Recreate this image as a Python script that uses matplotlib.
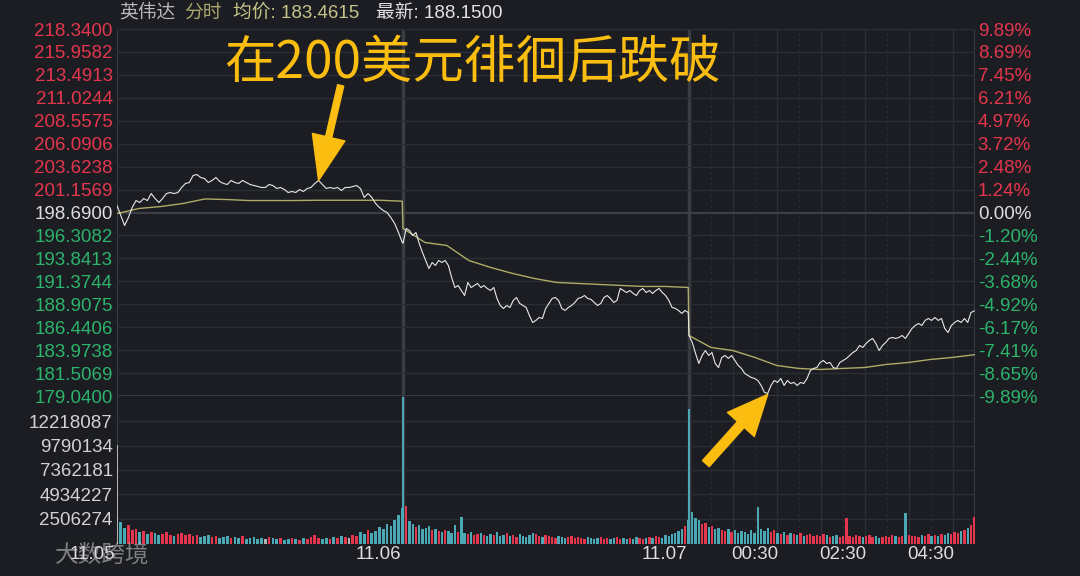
import matplotlib.pyplot as plt
import numpy as np

plt.rcParams['font.family'] = ['Liberation Sans', 'Noto Sans CJK SC', 'DejaVu Sans']

# --- data (NVDA intraday, three sessions, ~3 min steps) ---
d1_price = [199.44, 198.37, 197.30, 198.15, 199.23, 199.97, 199.76, 200.19, 199.97, 200.72,
            200.19, 199.76, 200.19, 200.72, 200.83, 200.72, 200.83, 201.37, 201.80, 201.90,
            202.65, 202.76, 202.44, 202.33, 201.90, 202.12, 202.44, 202.01, 201.80, 201.69,
            202.12, 201.90, 201.80, 202.12, 201.90, 201.69, 201.58, 201.47, 201.37, 201.37,
            201.69, 201.58, 201.26, 201.37, 201.15, 200.83, 200.94, 200.83, 201.15, 200.94,
            201.26, 201.37, 201.80, 202.12, 201.69, 201.26, 201.37, 201.26, 201.37, 201.05,
            201.37, 201.37, 201.47, 201.58, 201.26, 200.30, 200.72, 200.30, 199.65, 199.23,
            198.90, 198.69, 198.15, 197.51, 196.55, 195.48]
d2_price = [195.40, 196.98, 196.76, 196.23, 196.55, 195.37, 194.41, 193.55, 192.69, 193.34,
            193.02, 193.55, 193.34, 193.55, 193.02, 191.73, 190.66, 190.87, 190.34, 189.80,
            191.20, 190.66, 190.87, 191.09, 190.66, 190.87, 190.55, 190.34, 190.66, 189.48,
            188.73, 188.41, 188.73, 188.52, 189.27, 189.59, 188.95, 188.73, 188.52, 187.66,
            186.91, 187.13, 187.45, 187.34, 188.41, 188.95, 189.48, 189.59, 189.27, 188.41,
            188.20, 188.52, 188.73, 189.05, 189.48, 189.59, 189.80, 189.48, 189.38, 189.05,
            188.73, 188.95, 189.59, 189.80, 189.48, 189.05, 189.27, 190.55, 190.34, 190.12,
            190.34, 190.02, 189.80, 190.34, 190.55, 190.12, 190.34, 190.02, 190.34, 190.55,
            190.12, 189.80, 189.27, 188.52, 188.41, 188.20, 187.88, 188.20, 187.98]
d3_price = [185.52, 184.77, 183.59, 182.52, 183.38, 183.91, 183.38, 183.70, 182.52, 182.09,
            183.17, 183.38, 183.06, 183.38, 182.84, 182.31, 181.99, 181.45, 181.24, 181.02,
            180.92, 180.70, 180.17, 179.42, 179.31, 180.17, 180.70, 180.49, 180.92, 180.17,
            180.70, 180.38, 180.49, 180.17, 180.49, 180.38, 180.92, 181.77, 181.99, 182.09,
            182.63, 182.84, 182.52, 182.63, 182.09, 181.99, 182.63, 182.84, 183.06, 183.38,
            183.70, 183.91, 184.45, 184.24, 184.66, 184.99, 185.20, 184.66, 183.91, 184.45,
            184.77, 185.20, 185.31, 185.20, 185.31, 185.52, 185.20, 185.73, 186.27, 186.59,
            186.81, 186.59, 187.13, 187.34, 187.13, 187.45, 187.13, 187.34, 186.27, 185.84,
            186.59, 186.91, 187.13, 186.91, 187.34, 186.91, 187.98, 188.15]

# average price line, every 30 minutes
d1_avg = [198.58, 199.12, 199.33, 199.65, 200.14, 200.08, 199.97, 199.97, 199.97, 200.00,
          200.00, 200.00, 200.00, 199.90]
d2_avg = [196.98, 195.48, 195.16, 193.55, 192.80, 192.16, 191.62, 191.20, 191.09, 190.98,
          190.87, 190.77, 190.77, 190.66]
d3_avg = [185.52, 184.24, 183.91, 183.17, 182.31, 181.99, 181.88, 181.99, 182.09, 182.42,
          182.63, 182.95, 183.17, 183.46]

# volume, millions of shares
d1_vol = [9.80, 2.2, 1.6, 1.9, 1.4, 1.5, 1.2, 1.3, 1.0, 1.2, 1.1, 0.9, 1.0, 1.2, 0.9, 0.8, 1.0, 1.1, 0.9, 1.0,
          0.8, 0.9, 0.7, 0.8, 0.9, 0.7, 0.8, 0.6, 0.7, 0.8, 0.6, 0.7, 0.6, 0.8, 0.5, 0.6, 0.7, 0.5, 0.6, 0.5,
          0.7, 0.6, 0.5, 0.6, 0.4, 0.5, 0.6, 0.5, 0.4, 0.6, 0.5, 0.7, 0.9, 0.6, 0.5, 0.6, 0.5, 0.7, 0.6, 0.8,
          0.7, 0.6, 0.9, 0.8, 1.2, 1.0, 1.4, 1.1, 1.3, 1.7, 1.5, 2.0, 1.8, 2.4, 2.9, 3.6]
d2_vol = [14.60, 3.8, 2.3, 2.0, 1.7, 1.9, 1.5, 1.6, 1.8, 1.4, 1.5, 1.3, 1.2, 1.4, 1.3, 1.1, 1.9, 1.2, 2.7, 1.1,
          1.0, 1.2, 0.9, 1.0, 1.1, 0.9, 0.8, 1.0, 0.9, 1.2, 0.8, 0.9, 1.1, 0.8, 0.9, 0.7, 1.0, 0.8, 0.7, 0.9,
          1.1, 1.0, 0.8, 0.7, 0.9, 0.8, 0.7, 0.6, 0.8, 0.7, 0.6, 0.7, 0.8, 0.6, 0.7, 0.6, 0.5, 0.7, 0.6, 0.5,
          0.6, 0.7, 0.5, 0.6, 0.5, 0.6, 0.7, 0.5, 0.6, 0.5, 0.6, 0.5, 0.7, 0.6, 0.5, 0.6, 0.7, 0.6, 0.8, 0.7,
          0.6, 0.9, 0.8, 1.0, 1.1, 1.3, 1.5, 1.8, 2.4]
d3_vol = [13.40, 3.2, 2.6, 2.4, 2.0, 2.1, 1.7, 1.8, 1.5, 1.6, 1.4, 1.3, 1.5, 1.2, 1.4, 1.1, 1.3, 1.2, 1.0, 1.4,
          1.1, 3.7, 1.5, 1.3, 1.6, 1.2, 1.4, 1.1, 1.0, 1.2, 0.9, 1.1, 1.0, 0.9, 1.1, 0.8, 0.9, 1.0, 0.8, 0.9,
          0.8, 1.0, 0.9, 0.7, 0.8, 0.9, 0.7, 0.8, 2.6, 0.8, 0.7, 0.9, 0.8, 0.7, 0.8, 0.9, 0.7, 0.8, 0.6, 0.7,
          0.8, 0.7, 0.9, 0.8, 0.7, 0.8, 3.1, 0.9, 0.8, 0.8, 0.7, 0.9, 0.8, 1.0, 0.8, 0.9, 0.8, 1.0, 0.9, 1.1,
          1.0, 1.2, 1.1, 1.3, 1.4, 1.6, 1.9, 2.7]

price_labels = ['179.0400', '181.5069', '183.9738', '186.4406', '188.9075', '191.3744', '193.8413',
                '196.3082', '198.6900', '201.1569', '203.6238', '206.0906', '208.5575', '211.0244',
                '213.4913', '215.9582', '218.3400']
pct_labels = ['-9.89%', '-8.65%', '-7.41%', '-6.17%', '-4.92%', '-3.68%', '-2.44%', '-1.20%', '0.00%',
              '1.24%', '2.48%', '3.72%', '4.97%', '6.21%', '7.45%', '8.69%', '9.89%']
vol_ticks = [2.506274, 4.934227, 7.362181, 9.790134, 12.218087]
vol_labels = ['2506274', '4934227', '7362181', '9790134', '12218087']
day_labels = ['11.05', '11.06', '11.07']
time_labels = ['00:30', '02:30', '04:30']
time_pos = [870, 990, 1110]

BG = '#1b1d22'
GRID = '#2b2e35'
EDGE = '#393c43'
RED = '#e5364d'
GREEN = '#2db46c'
TEAL = '#4aa9b4'
GRAY = '#b4b4b4'
YEL = '#fbbd10'
SESSION = 390

fig = plt.figure(figsize=(10.8, 5.76), dpi=100, facecolor=BG)
L, R = 117 / 1080, 975 / 1080
axv = fig.add_axes([L, 1 - 544 / 576, R - L, (544 - 396) / 576])
ax = fig.add_axes([L, 1 - 396 / 576, R - L, (396 - 29) / 576])

days = [d1_price, d2_price, d3_price]
avgs = [d1_avg, d2_avg, d3_avg]
vols = [d1_vol, d2_vol, d3_vol]

xs, ws = [], []
for i, p in enumerate(days):
    xs.append(np.linspace(SESSION * i, SESSION * i + SESSION - 1, len(p)))
    ws.append(np.full(len(p), SESSION / len(p) * 0.72))
x_all = np.concatenate(xs)
w_all = np.concatenate(ws)
price_all = np.concatenate(days)
vol_all = np.concatenate(vols)
xa_all = np.concatenate([np.linspace(SESSION * i, SESSION * i + SESSION - 1, len(a)) for i, a in enumerate(avgs)])
avg_all = np.concatenate(avgs)

for a in (ax, axv):
    a.set_facecolor('none')
    for s in a.spines.values():
        s.set_visible(False)
    a.set_xlim(0, SESSION * 3)
    a.set_xticks([])
    # session borders and hour lines
    for xv in [0, SESSION * 3]:
        a.axvline(xv, color=EDGE, lw=1.5, zorder=1)
    for xv in [SESSION, SESSION * 2]:
        a.axvline(xv, color=EDGE, lw=2.5, zorder=1)
    for xv in range(SESSION * 2 + 60, SESSION * 3, 60):
        a.axvline(xv, color=GRID, lw=1, zorder=1)
    for xv in range(SESSION * 2 + 30, SESSION * 3, 60):
        a.axvline(xv, color=GRID, lw=0.8, ls=(0, (2, 3)), zorder=1)

# price panel
lo, hi = 179.04, 218.34
ticks = np.linspace(lo, hi, 17)
ax.set_ylim(lo, hi)
for i, t in enumerate(ticks):
    if i == 8:
        ax.axhline(t, color='#3c3f47', lw=1.6, zorder=1)
    elif i == 0:
        ax.axhline(t, color=EDGE, lw=2, zorder=1)
    else:
        ax.axhline(t, color=GRID, lw=1, zorder=1)

ax.plot(xa_all, avg_all, color='#aeab66', lw=1.0, zorder=3)
ax.plot(x_all, price_all, color='#e8e8e8', lw=0.8, zorder=4)

ax.set_yticks(ticks, price_labels)
ax.tick_params(axis='y', length=0, pad=3, labelsize=13.5)
axr = ax.twinx()
axr.set_ylim(lo, hi)
axr.set_yticks(ticks, pct_labels)
axr.tick_params(axis='y', length=0, pad=2, labelsize=13.5)
for s in axr.spines.values():
    s.set_visible(False)
for labs in (ax.get_yticklabels(), axr.get_yticklabels()):
    for i, lab in enumerate(labs):
        lab.set_color(RED if i > 8 else ('#dedede' if i == 8 else GREEN))

# volume panel
axv.set_ylim(0, 14.72)
for t in vol_ticks:
    axv.axhline(t, color=GRID, lw=1, zorder=1)
diff = np.diff(price_all, prepend=price_all[0])
bar_cols = np.where(diff > 0, RED, np.where(diff < 0, TEAL, GRAY))
axv.bar(x_all, vol_all, width=w_all, color=bar_cols, linewidth=0, zorder=3)
axv.set_yticks(vol_ticks, vol_labels)
axv.tick_params(axis='y', length=0, pad=3, labelsize=13.5, labelcolor='#d2d2d2')

# bottom date / time labels
xt = axv.get_xaxis_transform()
for i, lab in enumerate(day_labels):
    axv.text(SESSION * i - 3, -0.074, lab, transform=xt, ha='right', va='center',
             fontsize=13.5, color='#dcdcdc')
for pos, lab in zip(time_pos, time_labels):
    axv.text(pos, -0.074, lab, transform=xt, ha='center', va='center', fontsize=13.5, color='#dcdcdc')

# header
hy = 1 - 13 / 576
fig.text(119 / 1080, hy, '英伟达', color='#b8b8b8', fontsize=13.5, va='center')
fig.text(184 / 1080, hy, '分时', color='#a9a66c', fontsize=13.5, va='center')
fig.text(233 / 1080, hy, '均价: 183.4615', color='#c6c388', fontsize=13.5, va='center')
fig.text(376 / 1080, hy, '最新: 188.1500', color='#e2e2e2', fontsize=13.5, va='center')

# annotation
fig.text(472 / 1080, 1 - 63 / 576, '在200美元徘徊后跌破', color=YEL, fontsize=37,
         ha='center', va='center', family=['Noto Sans CJK SC'])
peak_i = 53
ax.annotate('', xy=(xs[0][peak_i], d1_price[peak_i]), xytext=(305, 212.3), annotation_clip=False,
            arrowprops=dict(arrowstyle='simple,head_length=3.2,head_width=2.4,tail_width=0.45',
                            mutation_scale=10, color=YEL, shrinkA=0, shrinkB=0), zorder=6)
low_i = 24
ax.annotate('', xy=(xs[2][low_i], d3_price[low_i] - 0.1), xytext=(803, 171.8), annotation_clip=False,
            arrowprops=dict(arrowstyle='simple,head_length=2.9,head_width=2.6,tail_width=0.65',
                            mutation_scale=10, color=YEL, shrinkA=0, shrinkB=0), zorder=6)

# watermark
fig.text(55 / 1080, 1 - 555 / 576, '大数跨境', color='#d0d0d0', alpha=0.55, fontsize=17, va='center')

fig.savefig('out.png', dpi=100, facecolor=BG)
